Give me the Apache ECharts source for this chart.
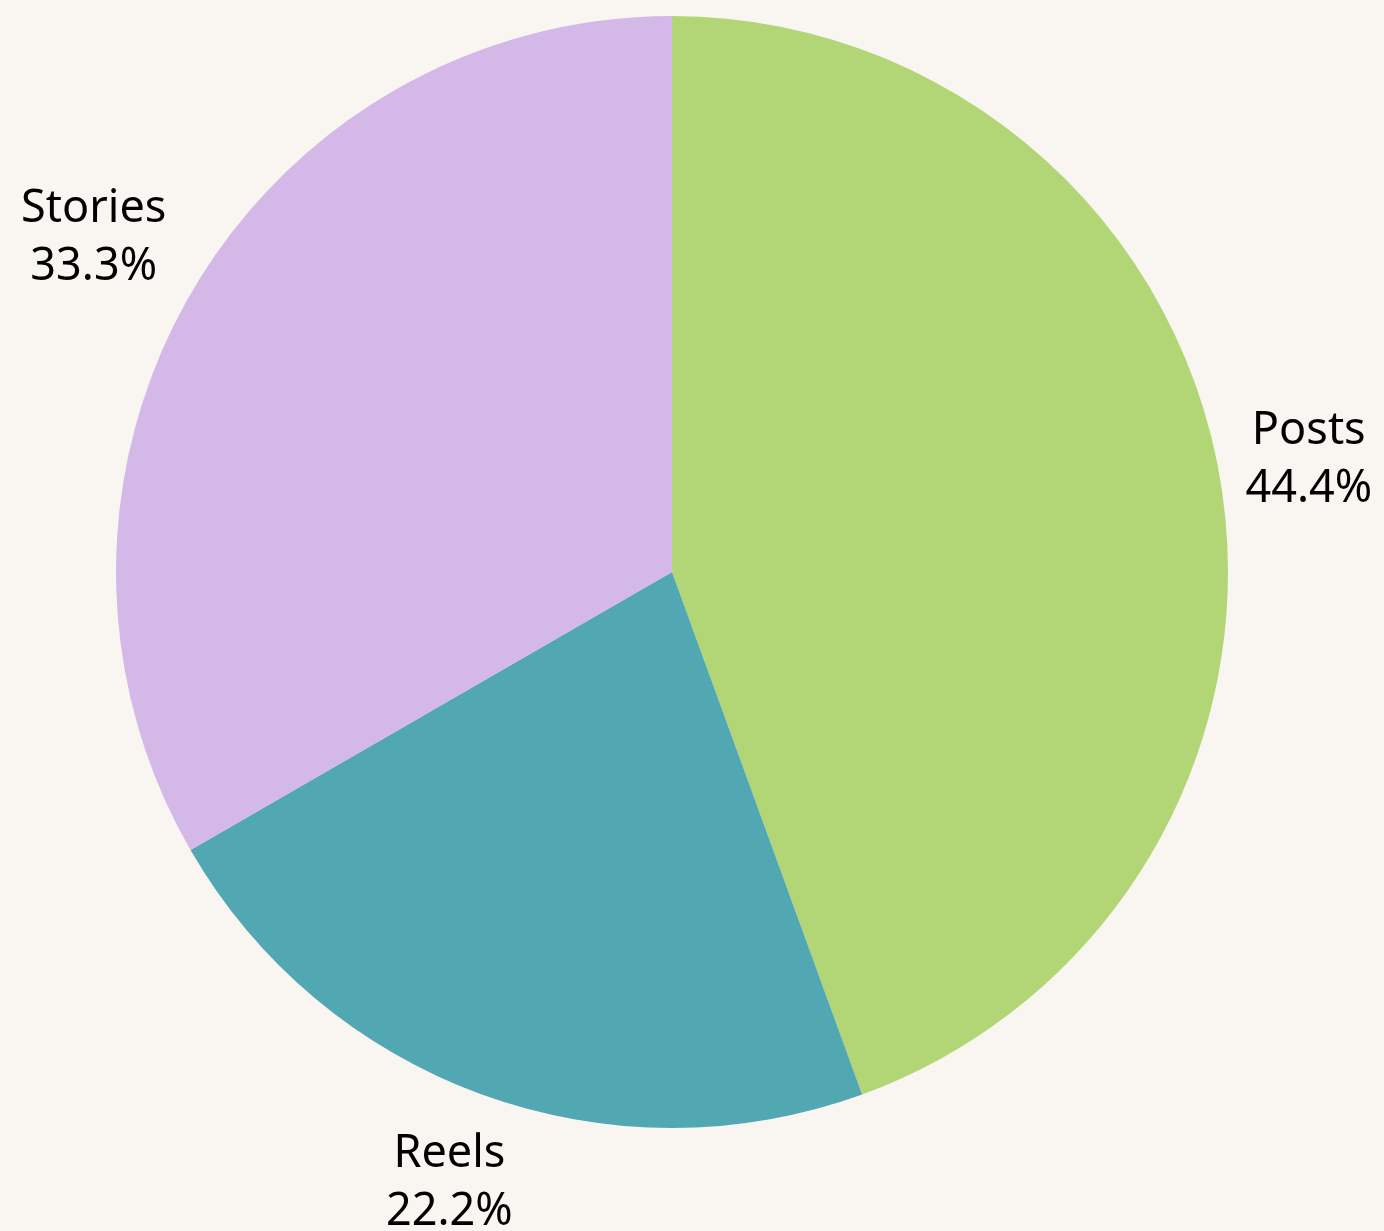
<!DOCTYPE html>
<html><head><meta charset="utf-8">
<script src="https://cdn.jsdelivr.net/npm/echarts@6/dist/echarts.min.js"></script>
<style>html,body{margin:0;padding:0;background:#f9f6f1;}#c{width:1384px;height:1231px;}</style>
</head><body><div id="c"></div>
<script>
const categories = ['Posts', 'Reels', 'Stories'];
const values = [4, 2, 3];
const colors = ['#b2d675', '#52a8b2', '#d4b8e8'];

const CX = 672, CY = 572, R = 556, GAP = 20;
const total = values.reduce((a, b) => a + b, 0);
function midAngle(i) {
  let before = 0;
  for (let k = 0; k < i; k++) before += values[k];
  const frac = (before + values[i] / 2) / total;
  return (-90 + frac * 360) * Math.PI / 180; // screen angle, clockwise from top
}
function boxDist(cx, cy, w, h) {
  const dx = Math.max(Math.abs(cx - CX) - w / 2, 0);
  const dy = Math.max(Math.abs(cy - CY) - h / 2, 0);
  return Math.sqrt(dx * dx + dy * dy);
}

const chart = echarts.init(document.getElementById('c'));
chart.setOption({
  backgroundColor: '#f9f6f1',
  animation: false,
  series: [{
    type: 'pie',
    center: [CX, CY],
    radius: R,
    startAngle: 90,
    clockwise: true,
    avoidLabelOverlap: false,
    data: categories.map((n, i) => ({ name: n, value: values[i], itemStyle: { color: colors[i] } })),
    label: {
      show: true,
      position: 'outside',
      formatter: p => p.name + '\n' + (values[p.dataIndex] / total * 100).toFixed(1) + '%',
      fontFamily: 'Noto Sans',
      fontSize: 45,
      lineHeight: 58,
      color: '#000000',
      align: 'center'
    },
    labelLine: { show: false },
    labelLayout: function (params) {
      const a = midAngle(params.dataIndex);
      const ux = Math.cos(a), uy = Math.sin(a);
      const w = params.labelRect.width, h = params.labelRect.height;
      let lo = 0, hi = R + 400;
      for (let k = 0; k < 60; k++) {
        const t = (lo + hi) / 2;
        if (boxDist(CX + t * ux, CY + t * uy, w, h) < R + GAP) lo = t; else hi = t;
      }
      return { x: CX + lo * ux, y: CY + lo * uy, align: 'center', verticalAlign: 'middle' };
    },
    emphasis: { disabled: true }
  }]
});
</script></body></html>
